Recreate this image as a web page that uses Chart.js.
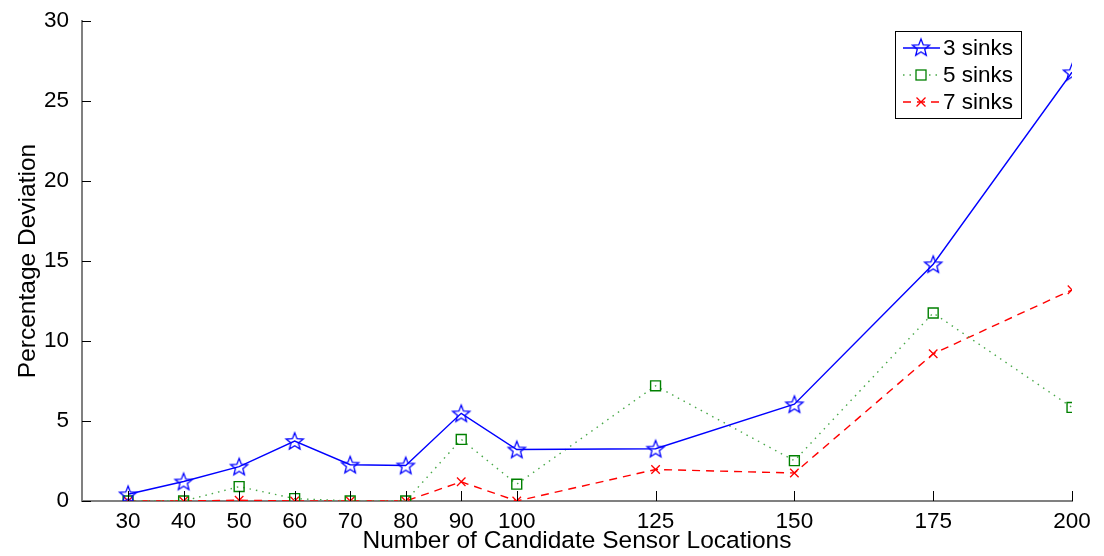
<!DOCTYPE html>
<html><head><meta charset="utf-8">
<script src="https://cdn.jsdelivr.net/npm/chart.js@4"></script>
<style>html,body{margin:0;padding:0;background:#fff;}canvas{display:block;}</style>
</head><body>
<canvas id="c" width="1104" height="556"></canvas>
<script>
const xValues = [30, 40, 50, 60, 70, 80, 90, 100, 125, 150, 175, 200];
const sinks3 = [0.42, 1.22, 2.15, 3.75, 2.27, 2.22, 5.48, 3.22, 3.27, 6.05, 14.8, 26.8];
const sinks5 = [0, 0, 0.9, 0.15, 0, 0, 3.85, 1.05, 7.2, 2.52, 11.75, 5.85];
const sinks7 = [0, 0, 0.05, 0, 0, 0, 1.2, 0, 1.97, 1.75, 9.2, 13.2];
const yTicks = [0, 5, 10, 15, 20, 25, 30];
const seriesNames = ['3 sinks', '5 sinks', '7 sinks'];

const FONT = '"Liberation Sans", Arial, sans-serif';
const TICK_SIZE = 22.5, TITLE_SIZE = 24.5;

function starImage(color) {
  const s = 22, c = document.createElement('canvas');
  c.width = s; c.height = s;
  const g = c.getContext('2d');
  const R = 9, r = 3.9, cx = s / 2, cy = s / 2 + 0.8;
  g.beginPath();
  for (let i = 0; i < 10; i++) {
    const rad = i % 2 === 0 ? R : r;
    const a = -Math.PI / 2 + i * Math.PI / 5;
    const x = cx + rad * Math.cos(a), y = cy + rad * Math.sin(a);
    if (i === 0) g.moveTo(x, y); else g.lineTo(x, y);
  }
  g.closePath();
  g.strokeStyle = color; g.lineWidth = 1.3; g.stroke();
  return c;
}
const star = starImage('#0000ff');

function toPts(arr) { return arr.map((v, i) => ({ x: xValues[i], y: v })); }

const innerTicks = {
  id: 'innerTicks',
  afterDraw(chart) {
    const ctx = chart.ctx, xs = chart.scales.x, ys = chart.scales.y, a = chart.chartArea;
    ctx.save();
    ctx.strokeStyle = '#000'; ctx.lineWidth = 1;
    xValues.forEach(v => {
      const px = Math.round(xs.getPixelForValue(v)) + 0.5;
      ctx.beginPath(); ctx.moveTo(px, a.bottom); ctx.lineTo(px, a.bottom - 10); ctx.stroke();
    });
    yTicks.forEach(v => {
      const py = Math.round(ys.getPixelForValue(v)) + 0.5;
      ctx.beginPath(); ctx.moveTo(a.left, py); ctx.lineTo(a.left + 9, py); ctx.stroke();
    });
    // legend
    const bx = 895.5, by = 31.5, bw = 126, bh = 87;
    ctx.fillStyle = '#fff'; ctx.fillRect(bx, by, bw, bh);
    ctx.strokeStyle = '#000'; ctx.lineWidth = 1; ctx.strokeRect(bx, by, bw, bh);
    const ds = chart.data.datasets;
    const rows = [48, 75, 102];
    ds.forEach((d, i) => {
      const y = rows[i];
      ctx.save();
      ctx.strokeStyle = d.borderColor; ctx.lineWidth = d.borderWidth;
      ctx.setLineDash(d.borderDash || []);
      ctx.beginPath(); ctx.moveTo(903, y); ctx.lineTo(940, y); ctx.stroke();
      ctx.restore();
      if (i === 0) {
        ctx.drawImage(star, 921 - 11, y - 11.8);
      } else if (i === 1) {
        ctx.fillStyle = '#fff'; ctx.fillRect(916, y - 5, 10, 10);
        ctx.strokeStyle = '#008000'; ctx.lineWidth = 1.3; ctx.strokeRect(916, y - 5, 10, 10);
      } else {
        ctx.strokeStyle = '#ff0000'; ctx.lineWidth = 1.3;
        ctx.beginPath(); ctx.moveTo(916.5, y - 4.5); ctx.lineTo(925.5, y + 4.5);
        ctx.moveTo(925.5, y - 4.5); ctx.lineTo(916.5, y + 4.5); ctx.stroke();
      }
      ctx.fillStyle = '#000'; ctx.font = TICK_SIZE + 'px ' + FONT;
      ctx.textBaseline = 'middle'; ctx.textAlign = 'left';
      ctx.fillText(seriesNames[i], 943, y + 1);
    });
    ctx.restore();
  }
};

new Chart(document.getElementById('c'), {
  type: 'line',
  data: {
    datasets: [
      { label: seriesNames[0], data: toPts(sinks3), borderColor: '#0000ff', borderWidth: 1.4,
        pointStyle: star, pointRadius: 10, pointBorderColor: '#0000ff', pointBackgroundColor: 'transparent' },
      { label: seriesNames[1], data: toPts(sinks5), borderColor: '#49a849', borderWidth: 1.4, borderDash: [1.5, 5],
        pointStyle: 'rect', pointRadius: 7, pointBorderWidth: 1.4, pointBorderColor: '#008000', pointBackgroundColor: 'transparent' },
      { label: seriesNames[2], data: toPts(sinks7), borderColor: '#ff0000', borderWidth: 1.4, borderDash: [8, 6],
        pointStyle: 'crossRot', pointRadius: 6, pointBorderWidth: 1.3, pointBorderColor: '#ff0000' }
    ]
  },
  options: {
    responsive: false,
    animation: false,
    devicePixelRatio: 1,
    layout: { padding: { left: 0, right: 32, top: 0, bottom: 0 } },
    plugins: { legend: { display: false }, tooltip: { enabled: false } },
    scales: {
      x: {
        type: 'linear', min: 21.7, max: 200,
        afterBuildTicks: ax => { ax.ticks = xValues.map(v => ({ value: v })); },
        afterFit: ax => { ax.height = 55; },
        grid: { display: false, drawTicks: false },
        border: { display: true, color: '#808080', width: 2 },
        ticks: { color: '#000', font: { family: FONT, size: TICK_SIZE }, padding: 7, autoSkip: false, maxRotation: 0,
                 callback: v => String(v) },
        title: { display: true, text: 'Number of Candidate Sensor Locations', color: '#000',
                 font: { family: FONT, size: TITLE_SIZE }, padding: { top: 0, bottom: 0 } }
      },
      y: {
        type: 'linear', min: 0, max: 30,
        afterBuildTicks: ax => { ax.ticks = yTicks.map(v => ({ value: v })); },
        afterFit: ax => { ax.width = 82; },
        grid: { display: false, drawTicks: false },
        border: { display: true, color: '#808080', width: 2 },
        ticks: { color: '#000', font: { family: FONT, size: TICK_SIZE, lineHeight: 16 / 22.5 }, padding: 13 },
        title: { display: true, text: 'Percentage Deviation', color: '#000',
                 font: { family: FONT, size: TITLE_SIZE }, padding: { top: 14, bottom: 0 } }
      }
    }
  },
  plugins: [innerTicks]
});
</script>
</body></html>
